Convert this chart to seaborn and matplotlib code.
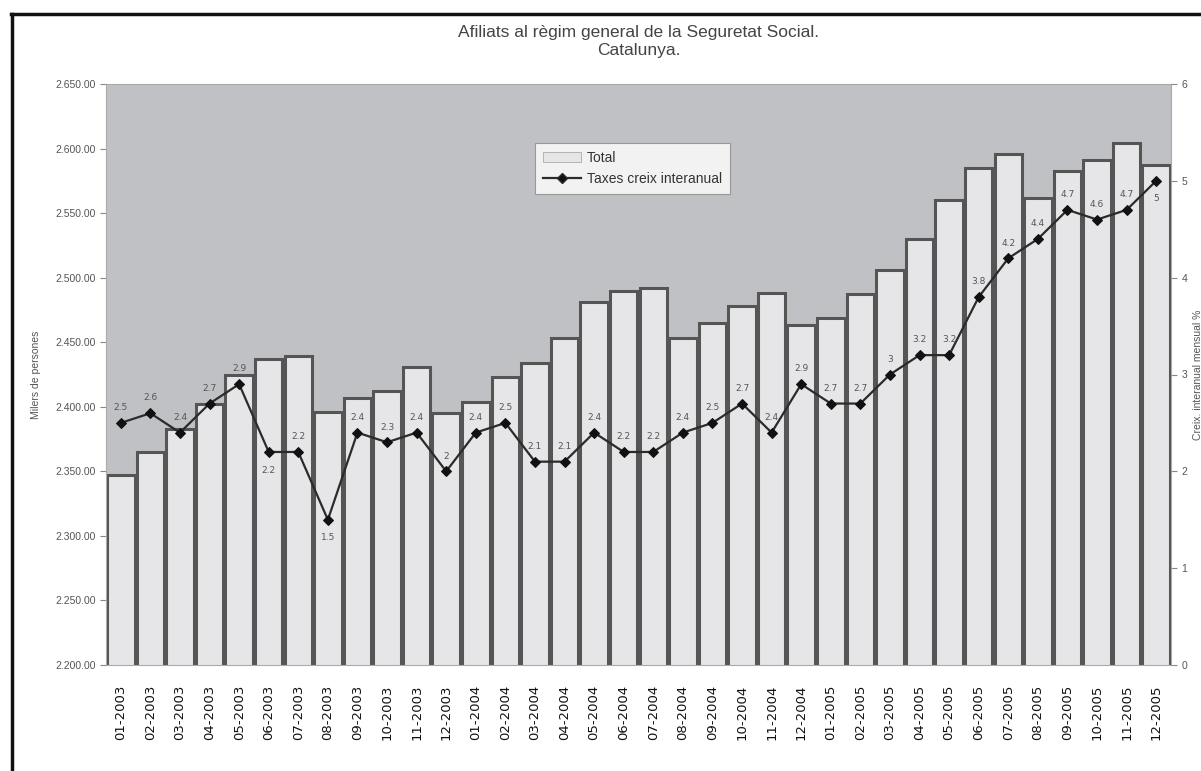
'''
Afiliats al regim general de la Seguretat Social - Catalunya
'''
import matplotlib
matplotlib.use("Agg")
import matplotlib.pyplot as plt
import matplotlib.lines as mlines
import matplotlib.patches as mpatches
from matplotlib.ticker import FuncFormatter, FixedLocator
import seaborn as sns
import numpy as np

months = ["01-2003", "02-2003", "03-2003", "04-2003", "05-2003", "06-2003",
          "07-2003", "08-2003", "09-2003", "10-2003", "11-2003", "12-2003",
          "01-2004", "02-2004", "03-2004", "04-2004", "05-2004", "06-2004",
          "07-2004", "08-2004", "09-2004", "10-2004", "11-2004", "12-2004",
          "01-2005", "02-2005", "03-2005", "04-2005", "05-2005", "06-2005",
          "07-2005", "08-2005", "09-2005", "10-2005", "11-2005", "12-2005"]

# milers de persones
total = [2347, 2365, 2383, 2402, 2425, 2437, 2439, 2396, 2407, 2412, 2431, 2395,
         2404, 2423, 2434, 2453, 2481, 2490, 2492, 2453, 2465, 2478, 2488, 2463,
         2469, 2487, 2506, 2530, 2560, 2585, 2596, 2562, 2583, 2591, 2604, 2587]

# taxa de creixement interanual (%)
taxes = [2.5, 2.6, 2.4, 2.7, 2.9, 2.2, 2.2, 1.5, 2.4, 2.3, 2.4, 2.0,
         2.4, 2.5, 2.1, 2.1, 2.4, 2.2, 2.2, 2.4, 2.5, 2.7, 2.4, 2.9,
         2.7, 2.7, 3.0, 3.2, 3.2, 3.8, 4.2, 4.4, 4.7, 4.6, 4.7, 5.0]

# labels that sit under the marker instead of above
below = {"06-2003", "08-2003", "12-2005"}

W, H = 1201, 771
fig = plt.figure(figsize=(W / 100, H / 100), dpi=100)
fig.patch.set_facecolor("white")

ax = fig.add_axes([106 / W, 1 - 665 / H, (1171 - 106) / W, (665 - 84) / H])
ax.set_facecolor("#c0c1c4")

sns.barplot(x=months, y=total, ax=ax, color="#e6e6e8", width=0.93,
            edgecolor="#555555", linewidth=2.2, saturation=1)
ax.set_ylim(2200, 2650)
ax.set_xlim(-0.5, len(months) - 0.5)
ax.yaxis.set_major_locator(FixedLocator(np.arange(2200, 2651, 50)))
ax.yaxis.set_major_formatter(FuncFormatter(lambda v, p: f"{v:,.2f}".replace(",", ".")))
ax.tick_params(axis="y", labelsize=7.5, labelcolor="#555555", color="#888888",
               length=4, width=0.8)
ax.tick_params(axis="x", labelsize=9.5, labelcolor="#111111", length=0, pad=14,
               rotation=90)
for lab in ax.get_yticklabels():
    lab.set_family("Liberation Sans")
ax.set_ylabel("Milers de persones", fontsize=7.5, color="#555555",
              family="Liberation Sans", labelpad=10)
for s in ax.spines.values():
    s.set_color("#aaaaaa")
    s.set_linewidth(0.8)

ax2 = ax.twinx()
sns.lineplot(x=np.arange(len(months)), y=taxes, ax=ax2, color="#2b2b2b",
             linewidth=1.6, marker="D", markersize=5.5, markerfacecolor="#111111",
             markeredgecolor="#111111")
ax2.set_ylim(0, 6)
ax2.set_xlim(-0.5, len(months) - 0.5)
ax2.set_yticks(range(0, 7))
ax2.tick_params(axis="y", labelsize=7.5, labelcolor="#555555", color="#888888",
                length=4, width=0.8)
for lab in ax2.get_yticklabels():
    lab.set_family("Liberation Sans")
ax2.set_ylabel("Creix. interanual mensual %", fontsize=7.5, color="#555555",
               family="Liberation Sans", labelpad=4)
for s in ax2.spines.values():
    s.set_visible(False)

for i, (m, v) in enumerate(zip(months, taxes)):
    txt = f"{v:g}"
    if m in below:
        ax2.annotate(txt, (i, v), xytext=(0, -13), textcoords="offset points",
                     ha="center", va="center", fontsize=6.5, color="#555555")
    else:
        ax2.annotate(txt, (i, v), xytext=(0, 11), textcoords="offset points",
                     ha="center", va="center", fontsize=6.5, color="#555555")

h_bar = mpatches.Patch(facecolor="#e6e6e8", edgecolor="#aaaaaa", linewidth=0.6)
h_line = mlines.Line2D([], [], color="#2b2b2b", linewidth=1.6, marker="D",
                       markersize=5, markerfacecolor="#111111")
leg = ax2.legend([h_bar, h_line], ["Total", "Taxes creix interanual"],
                 loc="upper left", bbox_to_anchor=((528 - 106) / 1065, (665 - 136) / 581),
                 frameon=True, fancybox=False, borderpad=0.55,
                 handlelength=2.8, handletextpad=0.4, labelspacing=0.55,
                 prop={"family": "Liberation Sans", "size": 10})
leg.get_frame().set_edgecolor("#888888")
leg.get_frame().set_linewidth(0.8)
for t in leg.get_texts():
    t.set_color("#333333")

fig.text((106 + 1171) / 2 / W, 1 - 42 / H,
         "Afiliats al règim general de la Seguretat Social.\nCatalunya.",
         ha="center", va="center", fontsize=12.5, color="#444444",
         family="Liberation Sans", linespacing=1.25)

# outer frame (left and top edges)
fig.add_artist(mlines.Line2D([12 / W, 12 / W], [0, 1 - 14 / H],
                             transform=fig.transFigure, color="#111111", linewidth=2.5))
fig.add_artist(mlines.Line2D([11 / W, 1], [1 - 14 / H, 1 - 14 / H],
                             transform=fig.transFigure, color="#111111", linewidth=2.5))

fig.savefig("out.png", dpi=100)
plt.close(fig)
